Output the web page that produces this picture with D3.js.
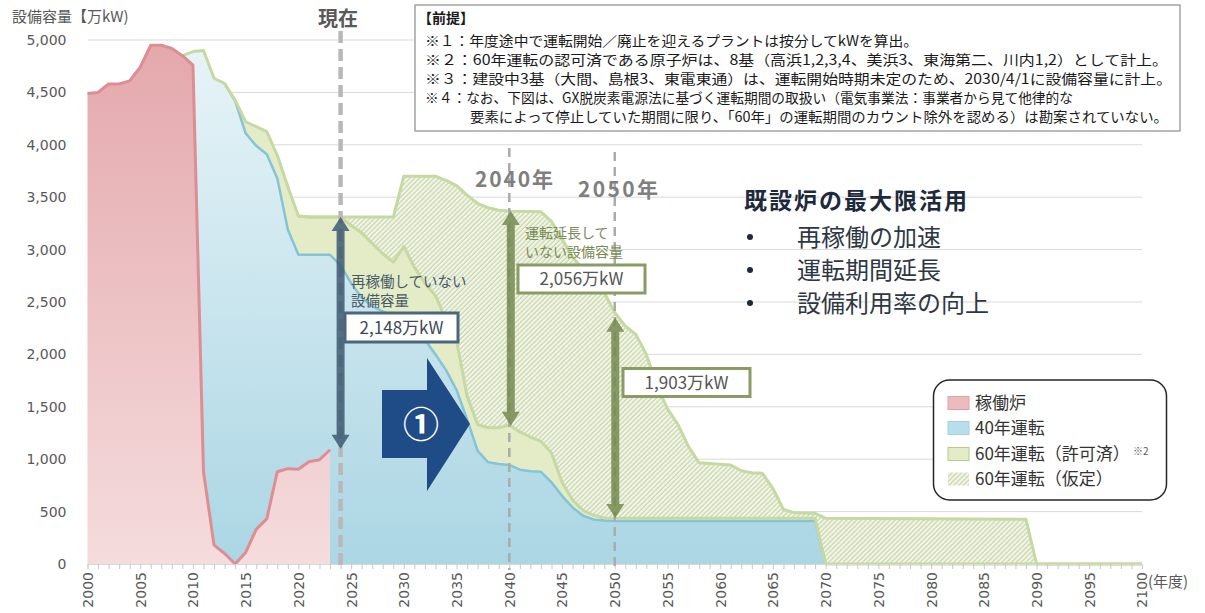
<!DOCTYPE html>
<html>
<head>
<meta charset="utf-8">
<style>
  body { margin: 0; background: #fff; }
  svg text { font-family: "Noto Sans CJK JP", "Noto Sans", sans-serif; }
  .num { font-family: "DejaVu Sans", sans-serif; font-size: 14px; fill: #595959; }
</style>
<script src="https://cdn.jsdelivr.net/npm/d3@7"></script>
</head>
<body>
<svg width="1205" height="613"></svg>
<script>
// ---- data (万kW by fiscal year) ----
var operating = [[2000,4490],[2001,4500],[2002,4580],[2003,4580],[2004,4610],[2005,4740],[2006,4950],[2007,4950],[2008,4920],[2009,4850],[2010,4760],[2011,880],[2012,180],[2013,100],[2014,0],[2015,110],[2016,330],[2017,430],[2018,880],[2019,910],[2020,905],[2021,975],[2022,995],[2023,1090]];
var forty = [[2009,4850],[2010,4890],[2011,4900],[2012,4635],[2013,4585],[2014,4420],[2015,4110],[2016,3990],[2017,3910],[2018,3680],[2019,3190],[2020,2950],[2021,2950],[2022,2950],[2023,2950],[2024,2850],[2025,2680],[2026,2540],[2027,2460],[2028,2410],[2029,2370],[2030,2300],[2031,2220],[2032,2140],[2033,2000],[2034,1850],[2035,1660],[2036,1380],[2037,1080],[2038,970],[2039,955],[2040,945],[2041,900],[2042,885],[2043,880],[2044,780],[2045,650],[2046,540],[2047,460],[2048,425],[2049,415],[2050,410],[2069,410],[2070,0]];
var approved60 = [[2009,4850],[2010,4890],[2011,4900],[2012,4635],[2013,4585],[2014,4427],[2015,4220],[2016,4173],[2017,4125],[2018,3900],[2019,3600],[2020,3320],[2021,3310],[2022,3310],[2023,3310],[2024,3310],[2025,3230],[2026,3160],[2027,3060],[2028,2960],[2029,2880],[2030,3030],[2031,2830],[2032,2680],[2033,2560],[2034,2330],[2035,2130],[2036,1600],[2037,1330],[2038,1300],[2039,1300],[2040,1326],[2041,1260],[2042,1210],[2043,1170],[2044,1060],[2045,780],[2046,610],[2047,510],[2048,465],[2049,440],[2050,436],[2069,436],[2070,0],[2100,0]];
var assumed60 = [[2020,3320],[2021,3310],[2029,3310],[2030,3700],[2033,3700],[2034,3660],[2035,3610],[2036,3520],[2037,3440],[2038,3400],[2039,3375],[2040,3368],[2043,3360],[2044,3270],[2045,3100],[2046,2930],[2047,2810],[2048,2690],[2049,2590],[2050,2400],[2051,2270],[2052,2190],[2053,2000],[2054,1700],[2055,1480],[2056,1330],[2057,1120],[2058,965],[2061,945],[2062,890],[2063,870],[2064,865],[2065,720],[2066,520],[2067,490],[2069,484],[2070,436],[2089,426],[2090,0],[2100,0]];

var yTicks = [0,500,1000,1500,2000,2500,3000,3500,4000,4500,5000];
var xTicks = [2000,2005,2010,2015,2020,2025,2030,2035,2040,2045,2050,2055,2060,2065,2070,2075,2080,2085,2090,2095,2100];

// gap arrows: year, top value, bottom value, label
var gapYears = [2024, 2040, 2050];
var gapTops = [3310, 3368, 2350];
var gapBottoms = [1100, 1320, 440];
var gapLabels = ["2,148万kW", "2,056万kW", "1,903万kW"];

var legendNames = ["稼働炉", "40年運転", "60年運転（許可済）", "60年運転（仮定）"];
var notes = [
  "※１：年度途中で運転開始／廃止を迎えるプラントは按分してkWを算出。",
  "※２：60年運転の認可済である原子炉は、8基（高浜1,2,3,4、美浜3、東海第二、川内1,2）として計上。",
  "※３：建設中3基（大間、島根3、東電東通）は、運転開始時期未定のため、2030/4/1に設備容量に計上。",
  "※４：なお、下図は、GX脱炭素電源法に基づく運転期間の取扱い（電気事業法：事業者から見て他律的な",
  "要素によって停止していた期間に限り、「60年」の運転期間のカウント除外を認める）は勘案されていない。"
];
var bullets = ["再稼働の加速", "運転期間延長", "設備利用率の向上"];

// ---- setup ----
var svg = d3.select("svg");
var x = d3.scaleLinear().domain([2000, 2100]).range([87.5, 1142]);
var y = d3.scaleLinear().domain([0, 5000]).range([564, 40]);

var defs = svg.append("defs");
function vgrad(id, top, bottom) {
  var g = defs.append("linearGradient").attr("id", id)
    .attr("gradientUnits", "userSpaceOnUse")
    .attr("x1", 0).attr("x2", 0).attr("y1", y(5000)).attr("y2", y(0));
  g.append("stop").attr("offset", "0%").attr("stop-color", top);
  g.append("stop").attr("offset", "100%").attr("stop-color", bottom);
}
vgrad("redGrad", "#e4a8ac", "#f5dcdd");
vgrad("blueGrad", "#e8f4f8", "#abd6e4");

var pat = defs.append("pattern").attr("id", "hatch")
  .attr("patternUnits", "userSpaceOnUse")
  .attr("width", 3.4).attr("height", 3.4)
  .attr("patternTransform", "rotate(45)");
pat.append("rect").attr("width", 3.4).attr("height", 3.4).attr("fill", "#f2f6e6");
pat.append("line").attr("x1", 1).attr("x2", 1).attr("y1", 0).attr("y2", 3.4)
  .attr("stroke", "#b3c493").attr("stroke-width", 0.85);

// gridlines
svg.append("g").selectAll("line").data(yTicks).join("line")
  .attr("x1", x(2000)).attr("x2", x(2100))
  .attr("y1", function (d) { return y(d); }).attr("y2", function (d) { return y(d); })
  .attr("stroke", "#d9d9d9").attr("stroke-width", 1);

// areas
var area = d3.area().x(function (d) { return x(d[0]); }).y0(y(0)).y1(function (d) { return y(d[1]); });
var line = d3.line().x(function (d) { return x(d[0]); }).y(function (d) { return y(d[1]); });

svg.append("path").datum(assumed60).attr("d", area).attr("fill", "url(#hatch)");
svg.append("path").datum(approved60).attr("d", area).attr("fill", "#e3ecc7");
svg.append("path").datum(forty).attr("d", area).attr("fill", "url(#blueGrad)");
svg.append("path").datum(operating).attr("d", area).attr("fill", "url(#redGrad)");

svg.append("path").datum(forty.filter(function (d) { return d[0] >= 2013; }))
  .attr("d", line).attr("fill", "none").attr("stroke", "#84c4d8").attr("stroke-width", 2.5)
  .attr("stroke-linejoin", "round");
svg.append("path").datum(approved60).attr("d", line).attr("fill", "none")
  .attr("stroke", "#c6d9a2").attr("stroke-width", 3).attr("stroke-linejoin", "round");
svg.append("path").datum(assumed60).attr("d", line).attr("fill", "none")
  .attr("stroke", "#c6d9a2").attr("stroke-width", 3).attr("stroke-linejoin", "round");
svg.append("path").datum(operating).attr("d", line).attr("fill", "none")
  .attr("stroke", "#de8d92").attr("stroke-width", 3).attr("stroke-linejoin", "round");

// axes
var yAxis = svg.append("g").attr("transform", "translate(" + x(2000) + ",0)")
  .call(d3.axisLeft(y).tickValues(yTicks).tickSize(0).tickPadding(21).tickFormat(d3.format(",")));
yAxis.select(".domain").remove();
yAxis.selectAll("text").attr("class", "num");

var minor = svg.append("g").attr("transform", "translate(0," + y(0) + ")")
  .call(d3.axisBottom(x).tickValues(d3.range(2000, 2101)).tickSize(5).tickFormat(""));
minor.select(".domain").attr("stroke", "#d9d9d9");
minor.selectAll("line").attr("stroke", "#c8c8c8");

var xAxis = svg.append("g").attr("transform", "translate(0," + y(0) + ")")
  .call(d3.axisBottom(x).tickValues(xTicks).tickSize(0).tickFormat(d3.format("d")));
xAxis.select(".domain").remove();
xAxis.selectAll("text").attr("class", "num")
  .attr("transform", "rotate(-90)").attr("x", -8).attr("y", 0).attr("dy", "0.35em")
  .style("text-anchor", "end");

svg.append("text").attr("x", 12).attr("y", 22).attr("font-size", 15).attr("fill", "#595959")
  .text("設備容量【万kW)");
svg.append("text").attr("x", 1148).attr("y", 587).attr("font-size", 15).attr("fill", "#595959")
  .text("(年度)");

// dashed year markers
svg.append("line").attr("x1", x(2024)).attr("x2", x(2024)).attr("y1", 31).attr("y2", 570)
  .attr("stroke", "#b8b8b8").attr("stroke-width", 4.5).attr("stroke-dasharray", "12 6");
[2040, 2050].forEach(function (yr, i) {
  svg.append("line").attr("x1", x(yr)).attr("x2", x(yr)).attr("y1", i ? 152 : 148).attr("y2", 570)
    .attr("stroke", "#ababab").attr("stroke-width", 2.5).attr("stroke-dasharray", "9 6");
});

svg.append("text").attr("x", 318).attr("y", 26).attr("font-size", 20).attr("font-weight", "bold")
  .attr("fill", "#595959").text("現在");
svg.append("text").attr("x", 475).attr("y", 187).attr("font-size", 21).attr("font-weight", "bold")
  .attr("fill", "#7f7f7f").attr("textLength", 78).text("2040年");
svg.append("text").attr("x", 578).attr("y", 197).attr("font-size", 21).attr("font-weight", "bold")
  .attr("fill", "#7f7f7f").attr("textLength", 80).text("2050年");

// double-headed arrows
function dblArrow(cx, yTop, yBot, color, op) {
  var s = 4, hw = 9, hh = 14;
  var p = d3.path();
  p.moveTo(cx, yTop); p.lineTo(cx + hw, yTop + hh); p.lineTo(cx + s, yTop + hh);
  p.lineTo(cx + s, yBot - hh); p.lineTo(cx + hw, yBot - hh); p.lineTo(cx, yBot);
  p.lineTo(cx - hw, yBot - hh); p.lineTo(cx - s, yBot - hh); p.lineTo(cx - s, yTop + hh);
  p.lineTo(cx - hw, yTop + hh); p.closePath();
  svg.append("path").attr("d", p.toString()).attr("fill", color).attr("opacity", op);
}
dblArrow(x(gapYears[0]), y(gapTops[0]), y(gapBottoms[0]), "#34536c", 0.8);
dblArrow(x(gapYears[1]) + 1.5, y(gapTops[1]), y(gapBottoms[1]), "#76894f", 0.85);
dblArrow(x(gapYears[2]) + 0.5, y(gapTops[2]), y(gapBottoms[2]), "#76894f", 0.85);

// big arrow ①
svg.append("path")
  .attr("d", "M382,390 L427,390 L427,358 L470,424 L427,491 L427,458 L382,458 Z")
  .attr("fill", "#1f4b86");
svg.append("text").attr("x", 421).attr("y", 425).attr("dy", "0.35em").attr("text-anchor", "middle")
  .attr("font-size", 36).attr("font-weight", "bold").attr("fill", "#fff").text("①");

// gap labels
function valueBox(bx, by, bw, bh, stroke, label, tcolor) {
  svg.append("rect").attr("x", bx).attr("y", by).attr("width", bw).attr("height", bh)
    .attr("fill", "#fff").attr("stroke", stroke).attr("stroke-width", 3);
  svg.append("text").attr("x", bx + bw / 2).attr("y", by + bh / 2).attr("dy", "0.36em")
    .attr("text-anchor", "middle").attr("font-size", 17).attr("fill", tcolor).text(label);
}
svg.append("text").attr("x", 351).attr("y", 287).attr("font-size", 14.5).attr("fill", "#4b5966").text("再稼働していない");
svg.append("text").attr("x", 351).attr("y", 306).attr("font-size", 14.5).attr("fill", "#4b5966").text("設備容量");
valueBox(345, 313, 113, 29, "#4c667c", gapLabels[0], "#3d4a57");

svg.append("text").attr("x", 525).attr("y", 238).attr("font-size", 14).attr("fill", "#7a8b55").text("運転延長して");
svg.append("text").attr("x", 525).attr("y", 257).attr("font-size", 14).attr("fill", "#7a8b55").text("いない設備容量");
valueBox(518, 265, 127, 28, "#8a9b66", gapLabels[1], "#555");
valueBox(623, 368.5, 127, 28, "#8a9b66", gapLabels[2], "#555");

// note box
svg.append("rect").attr("x", 415).attr("y", 5).attr("width", 765).attr("height", 126)
  .attr("fill", "#fff").attr("stroke", "#8c8c8c").attr("stroke-width", 1.2);
svg.append("text").attr("x", 418).attr("y", 23).attr("font-size", 14).attr("font-weight", "bold")
  .attr("fill", "#1a1a1a").text("【前提】");
var noteX = [425, 425, 425, 425, 470];
var noteW = [493, 743, 747, 648, 698];
notes.forEach(function (t, i) {
  svg.append("text").attr("x", noteX[i]).attr("y", 46 + i * 19).attr("font-size", 14)
    .attr("fill", "#1a1a1a").attr("textLength", noteW[i]).attr("lengthAdjust", "spacingAndGlyphs")
    .text(t);
});

// right text block
svg.append("text").attr("x", 744).attr("y", 209).attr("font-size", 23).attr("font-weight", "bold")
  .attr("fill", "#1c2a3c").attr("textLength", 223).text("既設炉の最大限活用");
bullets.forEach(function (t, i) {
  var by = 237 + i * 33;
  svg.append("circle").attr("cx", 750).attr("cy", by).attr("r", 3).attr("fill", "#1c2a3c");
  svg.append("text").attr("x", 797).attr("y", by).attr("dy", "0.36em").attr("font-size", 24)
    .attr("fill", "#2e3744").text(t);
});

// legend
svg.append("rect").attr("x", 933.5).attr("y", 380).attr("width", 233).attr("height", 120)
  .attr("rx", 16).attr("fill", "#fff").attr("stroke", "#262626").attr("stroke-width", 1.5);
var legFill = ["#ebbbbe", "#b9deeb", "#e2ecc6", "url(#hatch)"];
var legStroke = ["#e0a4a8", "#a6d2e2", "#b6ca8e", "none"];
var legY = [403, 428, 454, 479];
legendNames.forEach(function (n, i) {
  svg.append("rect").attr("x", 948).attr("y", legY[i] - 6.5).attr("width", 21).attr("height", 13)
    .attr("fill", legFill[i]).attr("stroke", legStroke[i]);
  svg.append("text").attr("x", 975).attr("y", legY[i]).attr("dy", "0.36em").attr("font-size", 17)
    .attr("fill", "#333").text(n);
});
svg.append("text").attr("x", 1133).attr("y", 455).attr("font-size", 10).attr("fill", "#595959").text("※2");
</script>
</body>
</html>
